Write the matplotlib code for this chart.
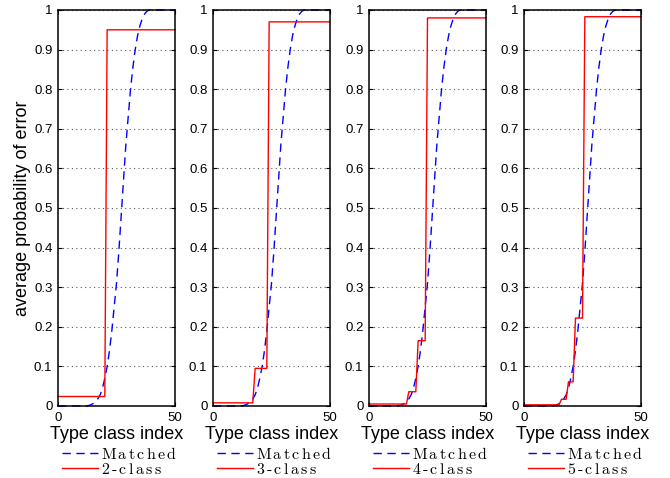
import numpy as np
import matplotlib
matplotlib.use("Agg")
import matplotlib.pyplot as plt

plt.rcParams['font.family'] = ['Liberation Sans', 'DejaVu Sans']
plt.rcParams['mathtext.fontset'] = 'cm'

# type class index
idx = np.arange(0, 51)

# matched detector (same in every panel)
matched = [0, 0, 0, 0, 0, 0, 0, 0, 0, 0, 0, 0, 0, 0.001,
           0.003, 0.006, 0.011, 0.018, 0.028, 0.045, 0.07, 0.1, 0.14, 0.19,
           0.25, 0.31, 0.39, 0.48, 0.57, 0.66, 0.73, 0.8, 0.855, 0.9,
           0.935, 0.96, 0.978, 0.99, 0.997] + [1.0] * 12

# quantised detectors, value per index
cls2 = [0.024] * 21 + [0.95] * 30
cls3 = [0.008] * 18 + [0.095] * 6 + [0.97] * 27
cls4 = [0.005] * 17 + [0.036] * 4 + [0.165] * 4 + [0.98] * 26
cls5 = [0.003] * 16 + [0.017] * 3 + [0.061] * 3 + [0.222] * 4 + [0.983] * 25

class_series = [cls2, cls3, cls4, cls5]
class_labels = ['2-class', '3-class', '4-class', '5-class']
yticks = [0, 0.1, 0.2, 0.3, 0.4, 0.5, 0.6, 0.7, 0.8, 0.9, 1]
ytick_labels = ['0', '0.1', '0.2', '0.3', '0.4', '0.5', '0.6', '0.7', '0.8', '0.9', '1']


def spaced(s):
    # wide letter spacing like the original legend text
    parts = [r'\text{-}' if c == '-' else c for c in s]
    return r'$\mathrm{' + r'\,'.join(parts) + '}$'


fig = plt.figure(figsize=(6.7, 4.78), dpi=100)
lefts = [58, 213, 369, 524]

for i, (vals, lab) in enumerate(zip(class_series, class_labels)):
    ax = fig.add_axes([lefts[i] / 670, 1 - 406 / 478, 117 / 670, 396 / 478])
    ax.plot(idx, matched, color='#0000ff', lw=1.0, dashes=(6, 4),
            label=spaced('Matched'), clip_on=False)
    ax.plot(idx, vals, color='#ff0000', lw=1.0, label=spaced(lab), clip_on=False)
    ax.set_xlim(0, 50)
    ax.set_ylim(0, 1)
    ax.set_xticks([0, 50])
    ax.set_yticks(yticks)
    ax.set_yticklabels(ytick_labels)
    ax.tick_params(direction='in', length=3, width=0.8, labelsize=9.5, pad=4,
                   top=True, right=True)
    ax.grid(axis='y', linestyle=(0, (1, 3)), color='0.35', lw=0.8)
    for sp in ax.spines.values():
        sp.set_linewidth(1.1)
    ax.set_xlabel('Type class index', fontsize=13, labelpad=2)
    if i == 0:
        ax.set_ylabel('average probability of error', fontsize=13, labelpad=2)
    ax.legend(loc='upper left', bbox_to_anchor=(0.03, -0.1), frameon=False,
              borderpad=0, borderaxespad=0, fontsize=11.5, handlelength=2.3,
              handletextpad=0.2, labelspacing=0.0)

fig.savefig('out.png', dpi=100)
